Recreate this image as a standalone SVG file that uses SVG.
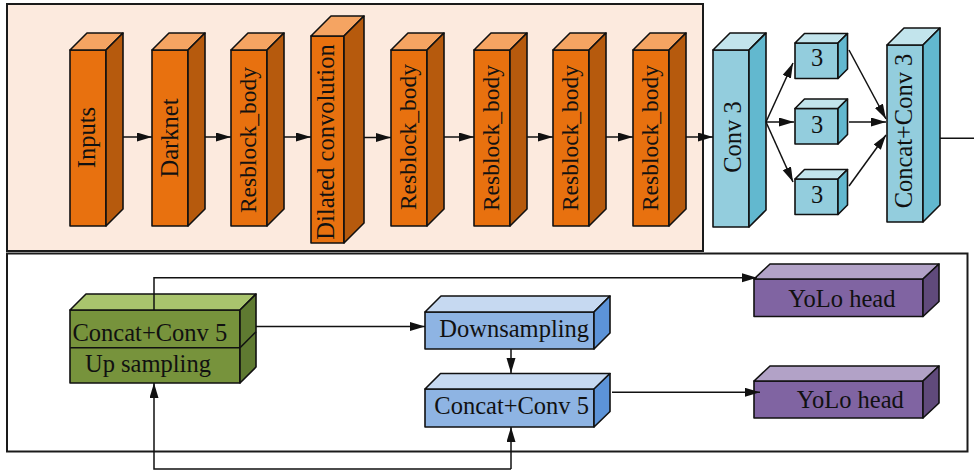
<svg xmlns="http://www.w3.org/2000/svg" width="974" height="470" viewBox="0 0 974 470">
<defs>
<marker id="ah" markerUnits="userSpaceOnUse" markerWidth="16" markerHeight="10" refX="15" refY="4.5" orient="auto">
<path d="M0,0 L15,4.5 L0,9 z" fill="#111"/>
</marker>
<style>
.frame{stroke:#1a1a1a;stroke-width:2}
.b{stroke:#111;stroke-width:1.6;stroke-linejoin:round}
.of{fill:#E8710F}.ot{fill:#F5A462}.or{fill:#B65A0D}
.cf{fill:#93CDDD}.ct{fill:#C2E4EC}.cr{fill:#62B8CF}
.gf{fill:#77933C}.gt{fill:#A9C46D}.gr{fill:#5F7A31}
.uf{fill:#8EB4E3}.ut{fill:#C6D9F1}.ur{fill:#5C93D8}
.pf{fill:#8064A2}.pt{fill:#B2A2C7}.pr{fill:#604A7B}
.t{font-family:"Liberation Serif","Times New Roman",serif;font-size:24.5px;fill:#111;stroke:none}
.c{fill:none;stroke:#111;stroke-width:1.5}
</style>
</defs>
<rect x="7" y="4" width="696" height="247" class="frame" style="fill:#FCEADE"/>
<rect x="7" y="253.5" width="960.5" height="198" class="frame" style="fill:#ffffff"/>

<g id="inputs" class="b">
<rect class="of" x="70" y="50" width="36" height="176"/>
<polygon class="ot" points="70,50 87,33 123,33 106,50"/>
<polygon class="or" points="106,50 123,33 123,209 106,226"/>
<text class="t" text-anchor="middle" transform="translate(94.5,137.5) rotate(-90)">Inputs</text>
</g>
<g id="darknet" class="b">
<rect class="of" x="152" y="50" width="36" height="176"/>
<polygon class="ot" points="152,50 169,33 205,33 188,50"/>
<polygon class="or" points="188,50 205,33 205,209 188,226"/>
<text class="t" text-anchor="middle" transform="translate(178,138) rotate(-90)">Darknet</text>
</g>
<g id="res1" class="b">
<rect class="of" x="231" y="50" width="36" height="176"/>
<polygon class="ot" points="231,50 248,33 284,33 267,50"/>
<polygon class="or" points="267,50 284,33 284,209 267,226"/>
<text class="t" style="font-size:23.5px" text-anchor="middle" transform="translate(256,140) rotate(-90)">Resblock_body</text>
</g>
<g id="dilated" class="b">
<rect class="of" x="311" y="36" width="33" height="207"/>
<polygon class="ot" points="311,36 331,16 364,16 344,36"/>
<polygon class="or" points="344,36 364,16 364,223 344,243"/>
<text class="t" text-anchor="middle" transform="translate(334,142) rotate(-90)">Dilated convolution</text>
</g>
<g id="res2" class="b">
<rect class="of" x="391" y="50" width="36" height="176"/>
<polygon class="ot" points="391,50 408,33 444,33 427,50"/>
<polygon class="or" points="427,50 444,33 444,209 427,226"/>
<text class="t" style="font-size:23.5px" text-anchor="middle" transform="translate(416,137) rotate(-90)">Resblock_body</text>
</g>
<g id="res3" class="b">
<rect class="of" x="474" y="50" width="36" height="176"/>
<polygon class="ot" points="474,50 491,33 527,33 510,50"/>
<polygon class="or" points="510,50 527,33 527,209 510,226"/>
<text class="t" style="font-size:23.5px" text-anchor="middle" transform="translate(499,138) rotate(-90)">Resblock_body</text>
</g>
<g id="res4" class="b">
<rect class="of" x="553" y="50" width="36" height="176"/>
<polygon class="ot" points="553,50 570,33 606,33 589,50"/>
<polygon class="or" points="589,50 606,33 606,209 589,226"/>
<text class="t" style="font-size:23.5px" text-anchor="middle" transform="translate(578,138) rotate(-90)">Resblock_body</text>
</g>
<g id="res5" class="b">
<rect class="of" x="633" y="50" width="36" height="176"/>
<polygon class="ot" points="633,50 650,33 686,33 669,50"/>
<polygon class="or" points="669,50 686,33 686,209 669,226"/>
<text class="t" style="font-size:23.5px" text-anchor="middle" transform="translate(658,138) rotate(-90)">Resblock_body</text>
</g>

<g id="conv3" class="b">
<rect class="cf" x="713" y="50" width="36" height="177"/>
<polygon class="ct" points="713,50 730,33 766,33 749,50"/>
<polygon class="cr" points="749,50 766,33 766,210 749,227"/>
<text class="t" text-anchor="middle" transform="translate(740.5,137) rotate(-90)">Conv 3</text>
</g>
<g id="b3a" class="b">
<rect class="cf" x="795" y="43" width="43" height="35.5"/>
<polygon class="ct" points="795,43 804.5,33.5 847.5,33.5 838,43"/>
<polygon class="cr" points="838,43 847.5,33.5 847.5,69 838,78.5"/>
<text class="t" text-anchor="middle" x="817" y="66">3</text>
</g>
<g id="b3b" class="b">
<rect class="cf" x="795" y="108.5" width="43" height="35.5"/>
<polygon class="ct" points="795,108.5 804.5,99 847.5,99 838,108.5"/>
<polygon class="cr" points="838,108.5 847.5,99 847.5,134.5 838,144"/>
<text class="t" text-anchor="middle" x="817" y="132.7">3</text>
</g>
<g id="b3c" class="b">
<rect class="cf" x="795" y="179" width="43" height="35.5"/>
<polygon class="ct" points="795,179 804.5,169.5 847.5,169.5 838,179"/>
<polygon class="cr" points="838,179 847.5,169.5 847.5,205 838,214.5"/>
<text class="t" text-anchor="middle" x="817" y="203.3">3</text>
</g>
<g id="concatconv3" class="b">
<rect class="cf" x="887" y="45" width="36" height="177"/>
<polygon class="ct" points="887,45 904,28 940,28 923,45"/>
<polygon class="cr" points="923,45 940,28 940,205 923,222"/>
<text class="t" text-anchor="middle" transform="translate(912,131) rotate(-90)">Concat+Conv 3</text>
</g>

<g id="green" class="b">
<rect class="gf" x="70" y="310" width="170" height="73"/>
<polygon class="gt" points="70,310 86,294 256,294 240,310"/>
<polygon class="gr" points="240,310 256,294 256,367 240,383"/>
<line x1="70" y1="347.7" x2="240" y2="347.7"/>
<line x1="240" y1="347.7" x2="256" y2="331.7"/>
<text class="t" x="72.5" y="340.7">Concat+Conv 5</text>
<text class="t" x="85" y="371.7">Up sampling</text>
</g>
<g id="downsampling" class="b">
<rect class="uf" x="425" y="312" width="169" height="37"/>
<polygon class="ut" points="425,312 441,296 610,296 594,312"/>
<polygon class="ur" points="594,312 610,296 610,333 594,349"/>
<text class="t" x="439.3" y="337.3">Downsampling</text>
</g>
<g id="concatconv5b" class="b">
<rect class="uf" x="425" y="389" width="169" height="38"/>
<polygon class="ut" points="425,389 440.5,373.5 610,373.5 594.5,389"/>
<polygon class="ur" points="594,389 610,373.5 610,411.5 594,427"/>
<text class="t" x="434.3" y="414.3">Concat+Conv 5</text>
</g>
<g id="yolo1" class="b">
<rect class="pf" x="754" y="279" width="169" height="37.5"/>
<polygon class="pt" points="754,279 770,264 939,264 923,279"/>
<polygon class="pr" points="923,279 939,264 939,301.5 923,316.5"/>
<text class="t" x="788.3" y="306.7">YoLo head</text>
</g>
<g id="yolo2" class="b">
<rect class="pf" x="754" y="381" width="169" height="37"/>
<polygon class="pt" points="754,381 770,366 939,366 923,381"/>
<polygon class="pr" points="923,381 939,366 939,403 923,418"/>
<text class="t" x="796.7" y="408.3">YoLo head</text>
</g>

<g id="connectors" class="c">
<line x1="123" y1="137" x2="152" y2="137" marker-end="url(#ah)"/>
<line x1="205" y1="137" x2="231" y2="137" marker-end="url(#ah)"/>
<line x1="284" y1="137" x2="311" y2="137" marker-end="url(#ah)"/>
<line x1="364" y1="137.5" x2="391" y2="137.5" marker-end="url(#ah)"/>
<line x1="444" y1="137" x2="474" y2="137" marker-end="url(#ah)"/>
<line x1="527" y1="137" x2="553" y2="137" marker-end="url(#ah)"/>
<line x1="606" y1="137" x2="633" y2="137" marker-end="url(#ah)"/>
<line x1="686" y1="137" x2="713" y2="137" marker-end="url(#ah)"/>
<line x1="766" y1="122" x2="793" y2="63" marker-end="url(#ah)"/>
<line x1="766" y1="122" x2="794" y2="122" marker-end="url(#ah)"/>
<line x1="766" y1="122" x2="793" y2="182" marker-end="url(#ah)"/>
<line x1="849" y1="50" x2="886" y2="119" marker-end="url(#ah)"/>
<line x1="849" y1="122" x2="886" y2="122" marker-end="url(#ah)"/>
<line x1="849" y1="186" x2="886" y2="135" marker-end="url(#ah)"/>
<line x1="940" y1="138.3" x2="974" y2="138.3"/>
<polyline points="154,310 154,277.7 757,277.7" marker-end="url(#ah)"/>
<line x1="256" y1="326.5" x2="425" y2="326.5" marker-end="url(#ah)"/>
<line x1="511" y1="349" x2="511" y2="373" marker-end="url(#ah)"/>
<line x1="612" y1="392.3" x2="760" y2="392.3" marker-end="url(#ah)"/>
<polyline points="511,469 154,469 154,383" marker-end="url(#ah)"/>
<line x1="511" y1="469" x2="511" y2="427" marker-end="url(#ah)"/>
</g>
</svg>
